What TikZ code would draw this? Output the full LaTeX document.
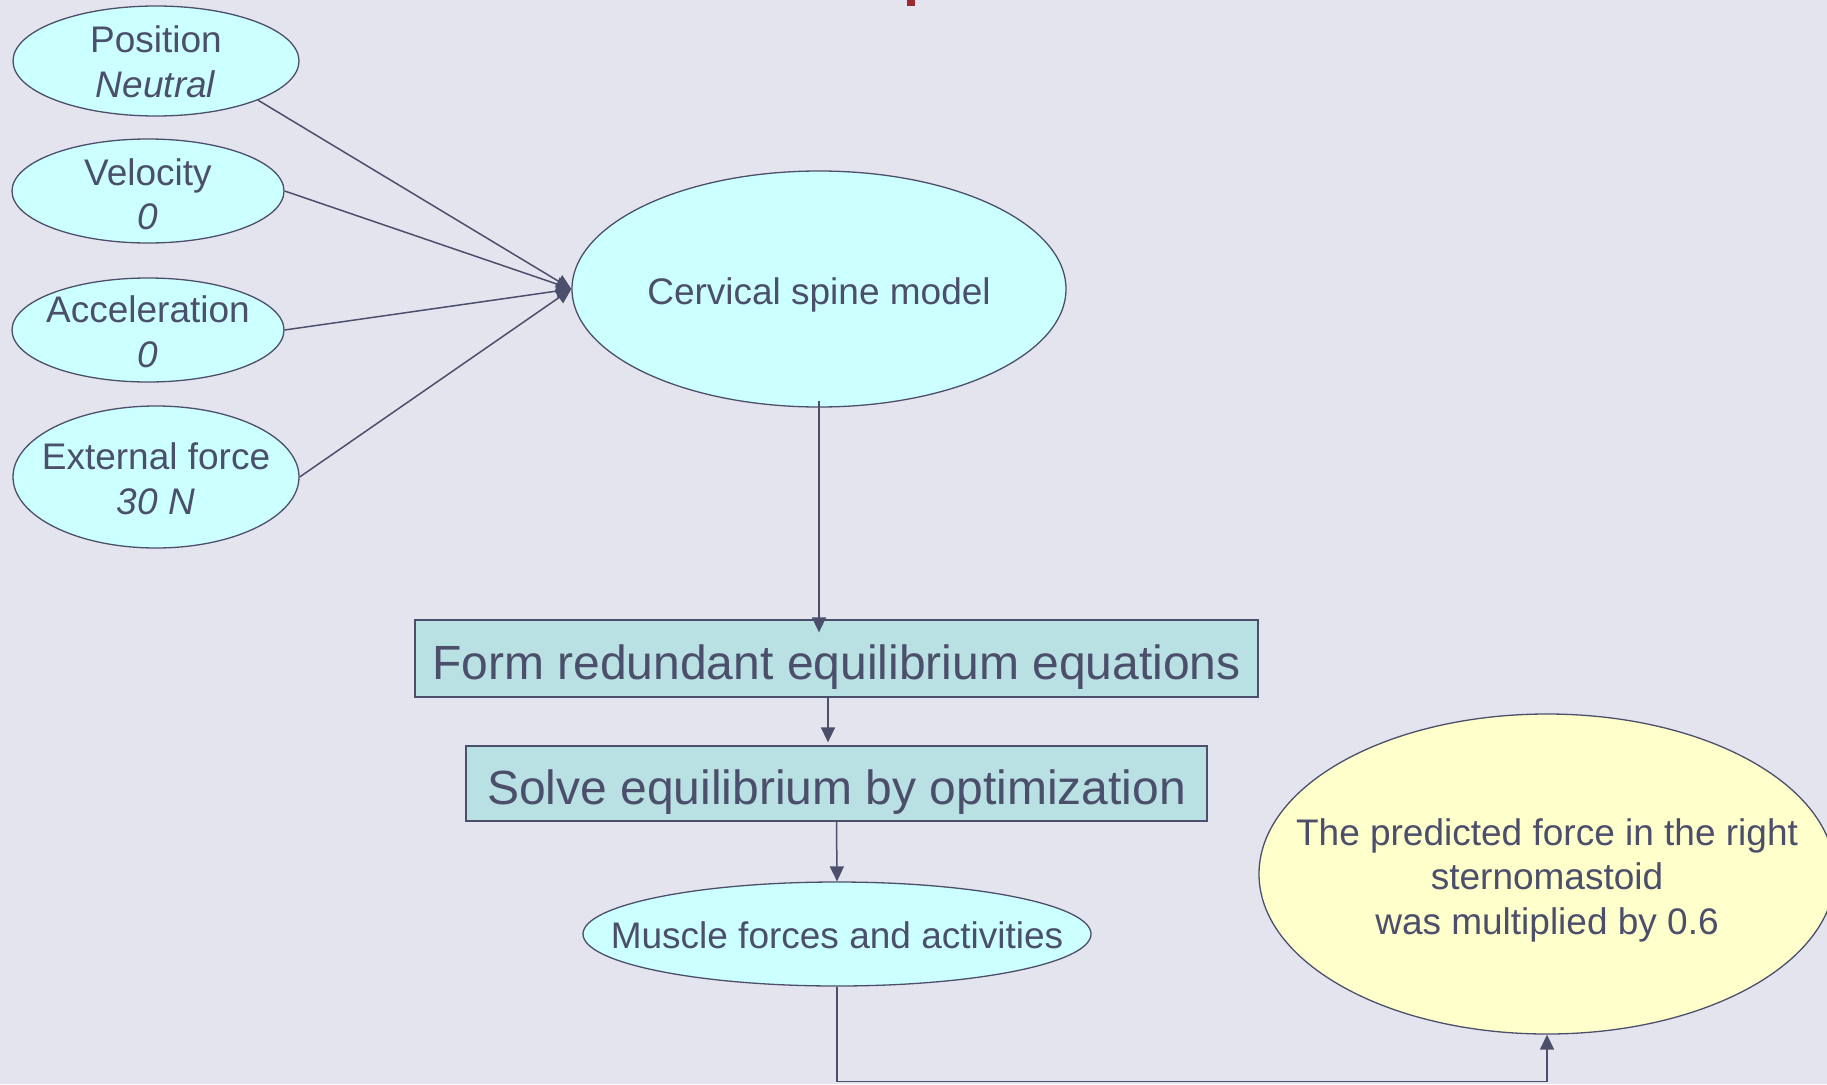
\documentclass[tikz,border=0pt]{standalone}
\usepackage{fontspec}
\setmainfont{Liberation Sans}
\usetikzlibrary{arrows.meta,shapes.geometric,calc}
\definecolor{bg}{RGB}{228,228,239}
\definecolor{ink}{RGB}{75,79,107}
\definecolor{cyanf}{RGB}{204,255,255}
\definecolor{boxf}{RGB}{185,224,226}
\definecolor{yel}{RGB}{255,255,204}
\definecolor{redm}{RGB}{158,42,47}
\begin{document}
\begin{tikzpicture}[x=1pt,y=-1pt,
 ell/.style={ellipse,draw=ink,line width=1.3pt,fill=cyanf,inner sep=0pt},
 txt/.style={text=ink,align=center,inner sep=0pt,font=\fontsize{37}{44.5}\selectfont},
 bx/.style={rectangle,draw=ink,line width=1.3pt,fill=boxf,inner sep=0pt,text=ink,text height=41pt,text depth=0pt,font=\fontsize{48}{56}\selectfont},
 arr/.style={draw=ink,line width=1.5pt,-{Triangle[length=15pt,width=14pt]}}]
\useasboundingbox (0,0) rectangle (1827,1084);
\clip (0,0) rectangle (1827,1084);
\fill[bg] (0,0) rectangle (1827,1084);
\fill[redm] (907,0) rectangle (915,6);

\node[ell,minimum width=286pt,minimum height=110pt,label={[txt,yshift=-1pt]center:Position\\\textit{Neutral}}] (P) at (156,61) {};
\node[ell,minimum width=272pt,minimum height=104pt,label={[txt,yshift=-3.5pt]center:Velocity\\\textit{0}}] (V) at (148,191) {};
\node[ell,minimum width=272pt,minimum height=104pt,label={[txt,yshift=-2pt]center:Acceleration\\\textit{0}}] (A) at (148,330) {};
\node[ell,minimum width=286pt,minimum height=142pt,label={[txt,yshift=-2pt]center:External force\\\textit{30 N}}] (E) at (156,477) {};
\node[ell,minimum width=494pt,minimum height=236pt,label={[txt,yshift=-5.5pt]center:Cervical spine model}] (C) at (819,289) {};
\node[bx,minimum width=843pt,minimum height=77pt] (F) at (836.5,658.5) {Form redundant equilibrium equations};
\node[bx,minimum width=741pt,minimum height=75pt] (S) at (836.5,783.5) {Solve equilibrium by optimization};
\node[ell,minimum width=508pt,minimum height=104pt,label={[txt,yshift=-1pt]center:Muscle forces and activities}] (M) at (837,934) {};
\node[ell,fill=yel,minimum width=576pt,minimum height=320pt,label={[txt,yshift=-6pt]center:The predicted force in the right\\sternomastoid\\was multiplied by 0.6}] (Y) at (1547,874) {};

\draw[arr] (P.-21) -- (C.west);
\draw[arr] (V.east) -- (C.west);
\draw[arr] (A.east) -- (C.west);
\draw[arr] (E.east) -- (C.west);

\draw[arr,shorten >=-13pt,shorten <=-7pt] (C.south) -- (C.south |- F.north);
\coordinate (f2) at ([xshift=-8.5pt]F.south);
\draw[arr,shorten >=3pt] (f2) -- (f2 |- S.north);
\draw[arr] (S.south) -- (M.north);
\coordinate (bot) at ($(M.south)+(0,95)$);
\draw[arr] (M.south) -- (bot) -| (Y.south);
\end{tikzpicture}
\end{document}
